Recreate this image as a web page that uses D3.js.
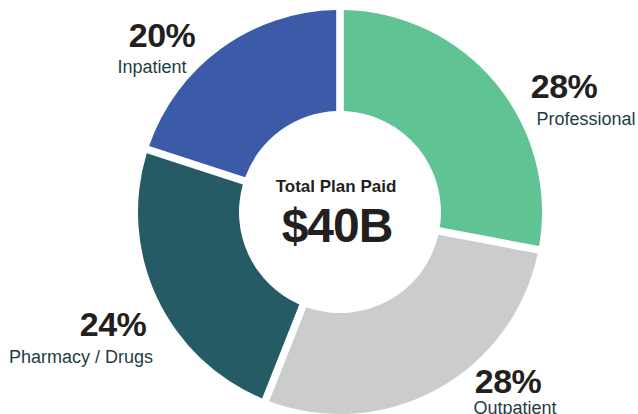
<!DOCTYPE html>
<html>
<head>
<meta charset="utf-8">
<script src="https://cdn.jsdelivr.net/npm/d3@7"></script>
<style>
  html, body { margin: 0; padding: 0; background: #fff; }
  svg { display: block; font-family: "Liberation Sans", Arial, Helvetica, sans-serif; }
</style>
</head>
<body>
<svg id="chart" width="638" height="414"></svg>
<script>
// ---- data ----
const categories = ["Professional", "Outpatient", "Pharmacy / Drugs", "Inpatient"];
const values = [28, 28, 24, 20];
const colors = ["#5fc393", "#cbcccd", "#255b65", "#3b5ba8"];
const centerTitle = "Total Plan Paid";
const centerValue = "$40B";

// ---- layout (label anchors: x center, y baseline of percentage) ----
const W = 638, H = 414;
const cx = 340, cy = 212, outerR = 202, innerR = 101;
const labelLayout = [
  { x: 564, y: 98,  dx: 22, dy: 27 },   // Professional
  { x: 508, y: 393, dx: 7,  dy: 21 },   // Outpatient
  { x: 113, y: 336, dx: -32, dy: 27 },  // Pharmacy / Drugs
  { x: 162, y: 47,  dx: -10, dy: 26 }   // Inpatient
];

const svg = d3.select("#chart");
const g = svg.append("g").attr("transform", `translate(${cx},${cy})`);

const pie = d3.pie().sort(null).value(d => d)(values);
const arc = d3.arc()
  .innerRadius(innerR)
  .outerRadius(outerR)
  .padRadius(outerR)
  .padAngle(7.6 / outerR);

g.selectAll("path.slice")
  .data(pie)
  .join("path")
  .attr("class", "slice")
  .attr("d", arc)
  .attr("fill", (d, i) => colors[i]);

// center text
g.append("text")
  .attr("x", -4).attr("y", -20)
  .attr("text-anchor", "middle")
  .attr("font-size", 17).attr("font-weight", "bold")
  .attr("fill", "#231f20")
  .text(centerTitle);
g.append("text")
  .attr("x", -3).attr("y", 30)
  .attr("text-anchor", "middle")
  .attr("font-size", 48).attr("font-weight", "bold")
  .attr("fill", "#231f20")
  .attr("letter-spacing", -1)
  .text(centerValue);

// slice labels
const lab = svg.selectAll("g.lab")
  .data(pie)
  .join("g")
  .attr("class", "lab");

lab.append("text")
  .attr("x", (d, i) => labelLayout[i].x)
  .attr("y", (d, i) => labelLayout[i].y)
  .attr("text-anchor", "middle")
  .attr("font-size", 34).attr("font-weight", "bold")
  .attr("fill", "#231f20")
  .attr("letter-spacing", -0.5)
  .text(d => d.value + "%");

lab.append("text")
  .attr("x", (d, i) => labelLayout[i].x + labelLayout[i].dx)
  .attr("y", (d, i) => labelLayout[i].y + labelLayout[i].dy)
  .attr("text-anchor", "middle")
  .attr("font-size", 18)
  .attr("fill", "#1d3d45")
  .text((d, i) => categories[i]);
</script>
</body>
</html>
